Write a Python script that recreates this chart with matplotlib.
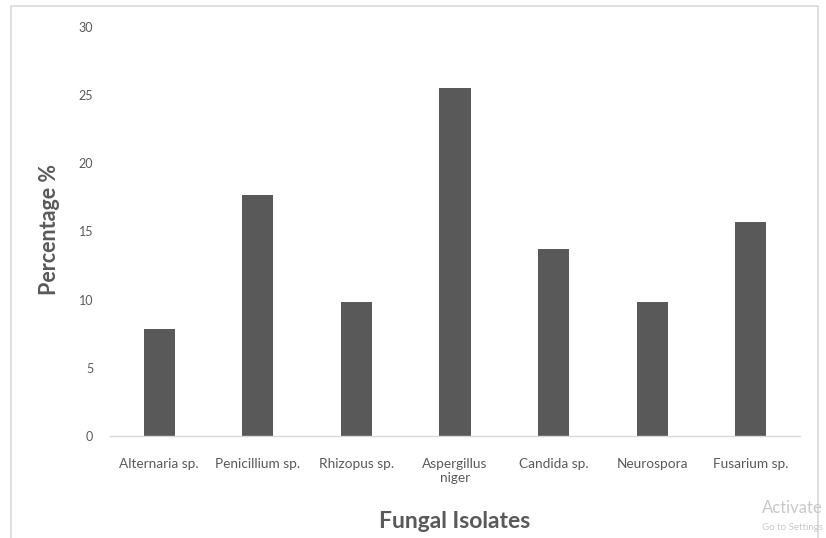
import matplotlib.pyplot as plt
from matplotlib.patches import Rectangle

isolates = ["Alternaria sp.", "Penicillium sp.", "Rhizopus sp.", "Aspergillus\nniger",
            "Candida sp.", "Neurospora", "Fusarium sp."]
percent = [7.84, 17.65, 9.80, 25.49, 13.73, 9.80, 15.69]
yticks = [0, 5, 10, 15, 20, 25, 30]

plt.rcParams['font.family'] = ['Lato', 'DejaVu Sans']

W, H = 826, 538
fig = plt.figure(figsize=(W / 100, H / 100), dpi=100)
ax = fig.add_axes([110 / W, 1 - 436 / H, 690 / W, 409 / H])

x = range(len(isolates))
ax.bar(x, percent, width=0.315, color="#595959")

ax.set_xlim(-0.5, len(isolates) - 0.5)
ax.set_ylim(0, 30)
ax.set_yticks(yticks)
ax.set_xticks(list(x))
ax.set_xticklabels(isolates, fontsize=9.8, color="#595959", linespacing=1.2)
ax.tick_params(axis="y", length=0, labelsize=9, labelcolor="#595959", pad=12)
ax.tick_params(axis="x", length=0, pad=16)
for lab in ax.get_xticklabels():
    lab.set_verticalalignment("top")

for s in ["top", "right", "left"]:
    ax.spines[s].set_visible(False)
ax.spines["bottom"].set_color("#d9d9d9")
ax.spines["bottom"].set_linewidth(1)

fig.text(50 / W, 1 - 230 / H, "Percentage %", rotation=90, ha="center", va="center",
         fontsize=15.5, fontweight="bold", color="#595959")
fig.text(455 / W, 1 - 521 / H, "Fungal Isolates", ha="center", va="center",
         fontsize=16.5, fontweight="bold", color="#595959")

# outer chart frame
fig.patches.append(Rectangle((11 / W, -0.05), 807 / W, 1.05 - 6 / H,
                             transform=fig.transFigure, fill=False,
                             edgecolor="#d9d9d9", linewidth=1.2))

# windows watermark
fig.text(762 / W, 1 - 508 / H, "Activate", fontsize=12, color="#c8c8c8", va="center")
fig.text(762 / W, 1 - 527 / H, "Go to Settings", fontsize=7, color="#c8c8c8", va="center")

fig.savefig("out.png", dpi=100)
